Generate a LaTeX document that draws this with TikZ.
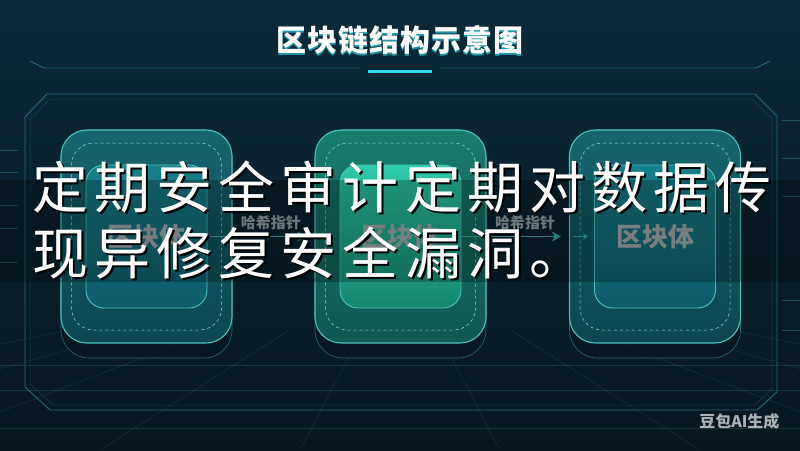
\documentclass[tikz,border=0pt]{standalone}
\usepackage{fontspec}
\newfontfamily\cjk{Noto Sans CJK SC}
\newfontfamily\cjktitle{Noto Sans CJK SC}[LetterSpace=3]
\newfontfamily\cjkwide{Noto Sans CJK SC}[LetterSpace=11]
\usetikzlibrary{arrows.meta,positioning}

\definecolor{bgtop}{HTML}{0B2A3A}
\definecolor{bgmid}{HTML}{0C3343}
\definecolor{bgbot}{HTML}{06161F}
\definecolor{framecol}{HTML}{1F6E76}
\definecolor{edgecol}{HTML}{4EC3BE}
\definecolor{blockhi}{HTML}{15646F}
\definecolor{blocklo}{HTML}{0D4654}
\definecolor{innerhi}{HTML}{17808C}
\definecolor{innerlo}{HTML}{0E5B6A}
\definecolor{greenhi}{HTML}{187C6C}
\definecolor{greenlo}{HTML}{0F5853}
\definecolor{greeninhi}{HTML}{2CCBA8}
\definecolor{greeninlo}{HTML}{15876F}
\definecolor{labelgray}{HTML}{A0A9AB}
\definecolor{hashgray}{HTML}{909FA2}
\definecolor{arrowcol}{HTML}{3AA99F}
\definecolor{glowcyan}{HTML}{2EE0F0}

\tikzset{
  block/.style={rounded corners=26pt, draw=edgecol, line width=1.1pt,
    minimum width=171pt, minimum height=213pt,
    top color=blockhi, bottom color=blocklo},
  greenblock/.style={block, top color=greenhi, bottom color=greenlo},
  blockbase/.style={rounded corners=28pt, draw=framecol, line width=0.6pt,
    fill=bgbot, fill opacity=0.6, minimum width=171pt, minimum height=228pt},
  ring/.style={rounded corners=22pt, draw=edgecol!60, dashed, line width=0.5pt,
    minimum width=150pt, minimum height=187pt},
  core/.style={rounded corners=18pt, draw=edgecol, line width=0.9pt,
    minimum width=121pt, minimum height=143pt,
    top color=innerhi, bottom color=innerlo,
    text=labelgray, font=\cjk\bfseries\fontsize{26}{30}\selectfont},
  greencore/.style={core, top color=greeninhi, bottom color=greeninlo},
  hasharrow/.style={draw=arrowcol, line width=1.6pt, -{Stealth[length=9pt,width=10pt]}},
  hashtip/.style={draw=arrowcol, line width=1pt, -{Stealth[length=5pt,width=6pt]}},
  hashlabel/.style={text=hashgray, font=\cjk\bfseries\fontsize{15}{18}\selectfont},
  overlay/.style={anchor=west, inner sep=0pt, text=white,
    font=\cjkwide\fontsize{56}{60}\selectfont},
  gridline/.style={draw=edgecol, line width=0.4pt, opacity=0.18},
}

\begin{document}
\begin{tikzpicture}[x=1pt, y=-1pt]
\useasboundingbox (0, 0) rectangle (800, 450);
\clip (0, 0) rectangle (800, 450);

% background
\shade[top color=bgtop, middle color=bgmid, bottom color=bgbot] (0, 0) rectangle (800, 450);
\begin{scope}
\clip (0, 330) rectangle (800, 450);
\foreach \xx in {-700, -500, ..., 1500}
  \draw[gridline] (400, 260) -- (\xx, 450);
\foreach \yy in {365, 390, 428}
  \draw[gridline] (0, \yy) -- (800, \yy);
\end{scope}
\foreach \yy in {150, 172, 205, 228, 262}
  \draw[gridline, opacity=0.3] (0, \yy) -- (18, \yy);
\foreach \yy in {120, 158, 196, 300, 330}
  \draw[gridline, opacity=0.3] (782, \yy) -- (800, \yy);

% title
\node[text=glowcyan, opacity=0.6, font=\cjktitle\bfseries\fontsize{30}{34}\selectfont]
  at (400, 41.5) {区块链结构示意图};
\node[text=white, font=\cjktitle\bfseries\fontsize{30}{34}\selectfont]
  (title) at (400, 40) {区块链结构示意图};
\draw[draw=framecol, line width=0.8pt] (30, 61) -- (44, 68) -- (360, 68);
\draw[draw=framecol, line width=0.8pt] (440, 68) -- (756, 68) -- (770, 61);
\draw[draw=glowcyan, line width=3pt] (368, 71) -- (432, 71);

% frame
\draw[draw=framecol, line width=0.9pt]
  (47, 94) -- (755, 94) -- (777, 116) -- (777, 392) -- (757, 410)
  -- (50, 410) -- (25, 387) -- (25, 117) -- cycle;
\draw[draw=framecol, line width=0.5pt, opacity=0.5]
  (50, 99) -- (752, 99) -- (772, 119) -- (772, 389) -- (755, 405)
  -- (53, 405) -- (30, 384) -- (30, 120) -- cycle;

% blocks
\node[blockbase] at (146.5, 244) {};
\node[blockbase] at (400.5, 244) {};
\node[blockbase] at (655, 244) {};
\node[block] (lb) at (146.5, 236.5) {};
\node[greenblock] (mb) at (400.5, 236.5) {};
\node[block] (rb) at (655, 236.5) {};
\node[ring] at (lb.center) {};
\node[ring] at (mb.center) {};
\node[ring] at (rb.center) {};
\node[core] (lbin) at (lb.center) {区块体};
\node[greencore] (mbin) at (mb.center) {区块体};
\node[core] (rbin) at (rb.center) {区块体};

% hash pointers
\draw[hasharrow, shorten >=8pt] (lbin.east) -- (mb.west)
  node[hashlabel, midway, above=2pt, xshift=10pt] {哈希指针};
\draw[hasharrow, shorten >=8pt] (mbin.east) -- (rb.west)
  node[hashlabel, midway, above=2pt, xshift=10pt] {哈希指针};
\draw[hashtip, shorten <=4pt, shorten >=6pt] (mb.west) -- (mbin.west);
\draw[hashtip, shorten <=4pt, shorten >=6pt] (rb.west) -- (rbin.west);

% overlay caption
\fill[black, opacity=0.25] (0, 180) rectangle (800, 282);
\node[overlay, text=black] at (34, 189) {定期安全审计定期对数据传};
\node[overlay, text=black] at (34, 255) {现异修复安全漏洞。};
\node[overlay] (capa) at (32, 187) {定期安全审计定期对数据传};
\node[overlay] (capb) at (32, 253) {现异修复安全漏洞。};

% watermark
\node[anchor=east, text=labelgray!90!white, font=\cjk\bfseries\fontsize{16}{18}\selectfont]
  (mark) at (783, 421) {豆包AI生成};
\end{tikzpicture}
\end{document}
